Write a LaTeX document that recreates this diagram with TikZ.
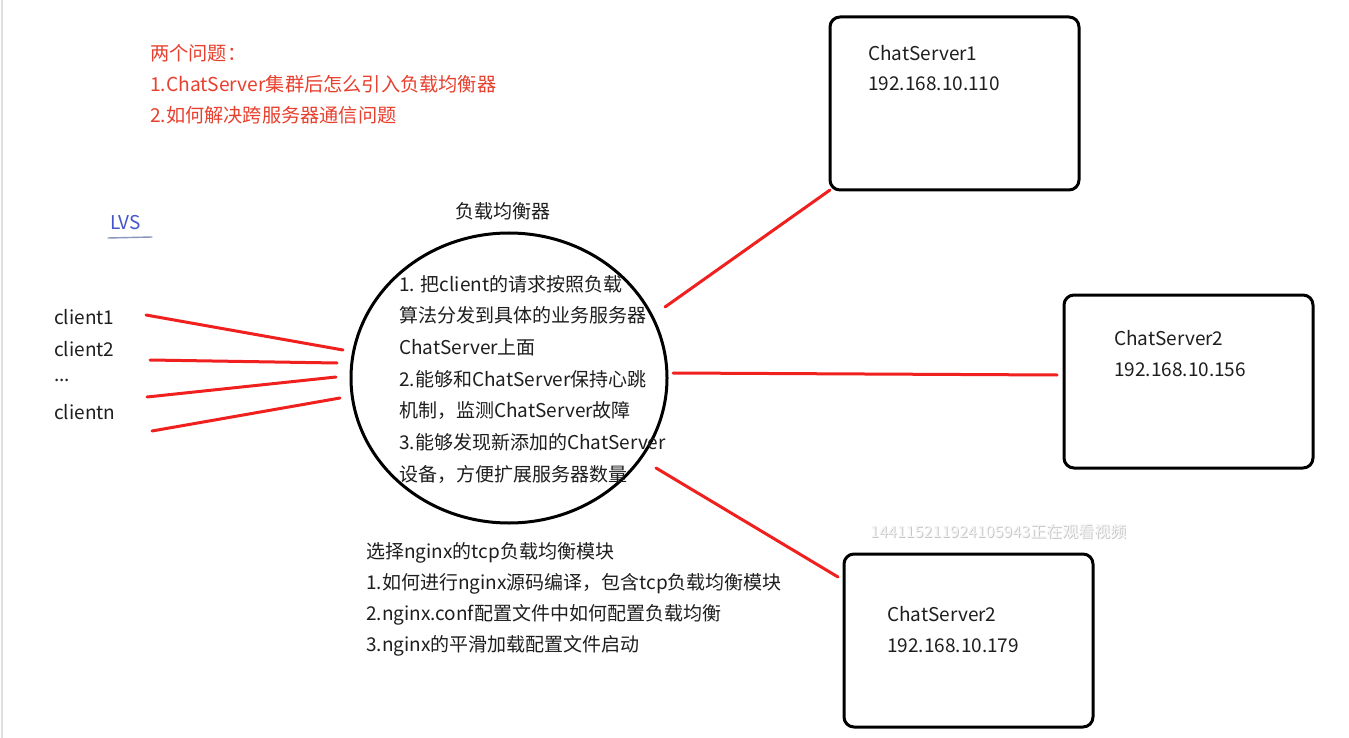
\documentclass[tikz,border=0pt]{standalone}
\usepackage{fontspec}
\setmainfont{Noto Sans CJK SC}
\usetikzlibrary{shapes.geometric}
\definecolor{txtgray}{HTML}{1E1E1E}
\definecolor{qred}{HTML}{E8402E}
\definecolor{lred}{HTML}{F0201E}
\definecolor{lvsblue}{HTML}{4455CC}
\definecolor{ulblue}{HTML}{8A96BE}
\tikzset{
  txt/.style={font=\fontsize{19}{23}\selectfont, text=txtgray, anchor=west, inner sep=0pt},
  redtxt/.style={font=\fontsize{19.2}{23}\selectfont, text=qred, anchor=west, inner sep=0pt},
  serverbox/.style={draw=black, line width=3pt, rounded corners=10pt, anchor=north west, minimum width=249pt, minimum height=173pt, inner sep=0pt, outer sep=0pt},
  link/.style={draw=lred, line width=3pt, line cap=round},
  wmark/.style={font=\fontsize{16}{19}\selectfont, anchor=west, inner sep=0pt}
}
\begin{document}
\begin{tikzpicture}[x=1pt,y=-1pt]
\useasboundingbox[fill=white] (0,0) rectangle (1349,738);
\draw[gray!25, line width=2pt] (2,0) -- (2,738);

% questions
\node[redtxt] (q0) at (150,53) {两个问题：};
\node[redtxt] (q1) at (150,84) {1.ChatServer集群后怎么引入负载均衡器};
\node[redtxt] (q2) at (150,115) {2.如何解决跨服务器通信问题};

% LVS
\node[txt, text=lvsblue] (lvs) at (110,223) {LVS};
\draw[ulblue, line width=1.4pt, line cap=round] (108,238) -- (152,237);

% clients
\node[txt] (cl1) at (54,317) {client1};
\node[txt] (cl2) at (54,349) {client2};
\node[txt] (cl3) at (54,380.5) {...};
\node[txt] (cln) at (54,412) {clientn};

% load balancer
\node[draw=black, line width=3pt, ellipse, minimum width=316pt, minimum height=290pt, inner sep=0pt, outer sep=0pt] (lb) at (509,378) {};
\node[txt] (lbt) at (455,211) {负载均衡器};
\node[txt] (l1) at (399,284) {1. 把client的请求按照负载};
\node[txt] (l2) at (399,315.6) {算法分发到具体的业务服务器};
\node[txt] (l3) at (399,347) {ChatServer上面};
\node[txt] (l4) at (399,379) {2.能够和ChatServer保持心跳};
\node[txt] (l5) at (399,410) {机制，监测ChatServer故障};
\node[txt] (l6) at (399,442) {3.能够发现新添加的ChatServer};
\node[txt] (l7) at (399,474) {设备，方便扩展服务器数量};

% bottom notes
\node[txt] (b0) at (366,553) {选择nginx的tcp负载均衡模块};
\node[txt] (b1) at (366,584) {1.如何进行nginx源码编译，包含tcp负载均衡模块};
\node[txt] (b2) at (366,615) {2.nginx.conf配置文件中如何配置负载均衡};
\node[txt] (b3) at (366,646) {3.nginx的平滑加载配置文件启动};

% servers
\node[serverbox] (s1) at (830,17) {};
\node[txt] (s1a) at (868,53) {ChatServer1};
\node[txt] (s1b) at (868,84) {192.168.10.110};
\node[serverbox] (s2) at (1064,295) {};
\node[txt] (s2a) at (1114,338) {ChatServer2};
\node[txt] (s2b) at (1114,369.5) {192.168.10.156};
\node[serverbox] (s3) at (844,554) {};
\node[txt] (s3a) at (887,614) {ChatServer2};
\node[txt] (s3b) at (887,646) {192.168.10.179};

% watermark
\node[wmark, text=gray!45] (wm0) at (871,532) {144115211924105943正在观看视频};
\node[wmark, text=white!92!gray] (wm) at (870,531) {144115211924105943正在观看视频};

% connector end points
\coordinate (c1s) at (146,315); \coordinate (c1e) at (343,350);
\coordinate (c2s) at (150,360); \coordinate (c2e) at (337,363);
\coordinate (c3s) at (147,397); \coordinate (c3e) at (336,377);
\coordinate (c4s) at (152,431); \coordinate (c4e) at (340,398);
\coordinate (a1) at (665,307);
\coordinate (a2) at (673,373); \coordinate (b2) at (1057,375);
\coordinate (a3) at (656,468); \coordinate (b3) at (838,577);

\draw[link] (c1s) -- (c1e);
\draw[link] (c2s) -- (c2e);
\draw[link] (c3s) -- (c3e);
\draw[link] (c4s) -- (c4e);
\draw[link] (a1) -- (s1.south west);
\draw[link] (a2) -- (b2);
\draw[link] (a3) -- (b3);
\end{tikzpicture}
\end{document}
